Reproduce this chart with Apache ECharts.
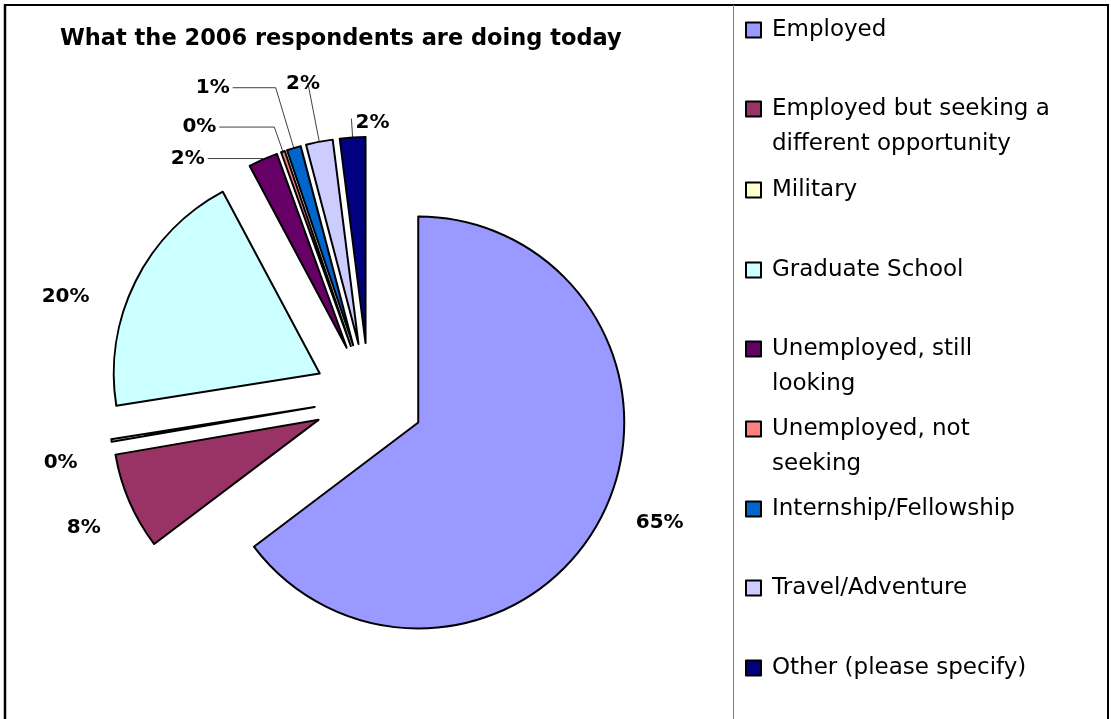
<!DOCTYPE html>
<html><head><meta charset="utf-8">
<script src="https://cdn.jsdelivr.net/npm/echarts@6/dist/echarts.min.js"></script>
<style>html,body{margin:0;padding:0;background:#fff}#c{width:1111px;height:719px}</style>
</head><body><div id="c"></div>
<script>
// ---- data ----
const titleText = 'What the 2006 respondents are doing today';
const categories = ['Employed', 'Employed but seeking a different opportunity', 'Military', 'Graduate School',
  'Unemployed, still looking', 'Unemployed, not seeking', 'Internship/Fellowship', 'Travel/Adventure', 'Other (please specify)'];
const values = [64.7, 7.6, 0.2, 19.7, 2.3, 0.3, 1.1, 2.1, 2.0];
const legendLines = [['Employed'], ['Employed but seeking a', 'different opportunity'], ['Military'], ['Graduate School'],
  ['Unemployed, still', 'looking'], ['Unemployed, not', 'seeking'], ['Internship/Fellowship'], ['Travel/Adventure'], ['Other (please specify)']];

// ---- style / layout ----
const colors = ['#9999FF', '#993366', '#FFFFCC', '#CCFFFF', '#660066', '#FF8080', '#0066CC', '#CCCCFF', '#000080'];
const labelCfg = [
  {show: false, length: 18, length2: 14},
  {show: false, length: 40, length2: 0},
  {show: false, length: 14, length2: 14},
  {show: false, length: 2, length2: 44},
  {show: true, length: 1, length2: 55},
  {show: true, length: 26, length2: 55},
  {show: true, length: 63, length2: 43},
  {show: true, length: 59, length2: 1},
  {show: true, length: 19, length2: 0}
];
const labelShift = [[0, 0], [11, 10], [-3, 20], [3, 16], [0, 0], [0, 0], [0, 0], [16, 0], [41, 4]];
const legendCenterY = [30, 109, 190, 270, 349, 429, 509, 588, 668];
const legendLineGap = 35;
const FONT = 'DejaVu Sans';
const LEGEND_FS = 23;

const chart = echarts.init(document.getElementById('c'), null, {renderer: 'canvas'});

const pieData = categories.map((name, i) => ({
  name: name,
  value: values[i],
  selected: true,
  itemStyle: {color: colors[i]},
  labelLine: {show: labelCfg[i].show, length: labelCfg[i].length, length2: labelCfg[i].length2}
}));

const legends = categories.map((name, i) => ({
  data: [name],
  left: 745,
  top: legendCenterY[i] - 14,
  orient: 'vertical',
  padding: 0,
  itemWidth: 15,
  itemHeight: 15,
  itemGap: 0,
  selectedMode: false,
  icon: 'rect',
  itemStyle: {borderColor: '#000', borderWidth: 2},
  formatter: () => legendLines[i][0],
  textStyle: {fontFamily: FONT, fontSize: LEGEND_FS, color: '#000', lineHeight: 28, padding: [0, 0, 0, 6]}
}));

const graphics = [];
legendLines.forEach((lines, i) => {
  lines.slice(1).forEach((t, k) => {
    graphics.push({
      type: 'text', left: 772, top: legendCenterY[i] + legendLineGap * (k + 1) - 14,
      style: {text: t, font: LEGEND_FS + 'px "' + FONT + '"', fill: '#000', lineHeight: 28}
    });
  });
});
// frame lines
graphics.push({type: 'line', shape: {x1: 5, y1: 5, x2: 1108, y2: 5}, style: {stroke: '#000', lineWidth: 2}});
graphics.push({type: 'line', shape: {x1: 5, y1: 4, x2: 5, y2: 719}, style: {stroke: '#000', lineWidth: 2.5}});
graphics.push({type: 'line', shape: {x1: 1108, y1: 4, x2: 1108, y2: 719}, style: {stroke: '#000', lineWidth: 2}});
graphics.push({type: 'line', shape: {x1: 733.5, y1: 5, x2: 733.5, y2: 719}, style: {stroke: '#808080', lineWidth: 1}});

chart.setOption({
  backgroundColor: '#fff',
  animation: false,
  title: {
    text: titleText, left: 60, top: 28, padding: 0,
    textStyle: {fontFamily: FONT, fontSize: 22.5, fontWeight: 'bold', color: '#000'}
  },
  legend: legends,
  graphic: graphics,
  series: [{
    type: 'pie',
    center: [369, 398],
    radius: [0, 206],
    startAngle: 90,
    clockwise: true,
    selectedMode: 'multiple',
    selectedOffset: 55,
    avoidLabelOverlap: false,
    emphasis: {disabled: true},
    itemStyle: {borderColor: '#000', borderWidth: 2},
    label: {
      show: true, position: 'outside',
      formatter: p => Math.round(p.percent) + '%',
      fontFamily: FONT, fontSize: 20, fontWeight: 'bold', color: '#000',
      distanceToLabelLine: 3
    },
    labelLine: {lineStyle: {color: '#404040', width: 1}},
    labelLayout: p => {
      const s = labelShift[p.dataIndex];
      return (s[0] || s[1]) ? {dx: s[0], dy: s[1]} : {};
    },
    data: pieData
  }]
});
</script></body></html>
